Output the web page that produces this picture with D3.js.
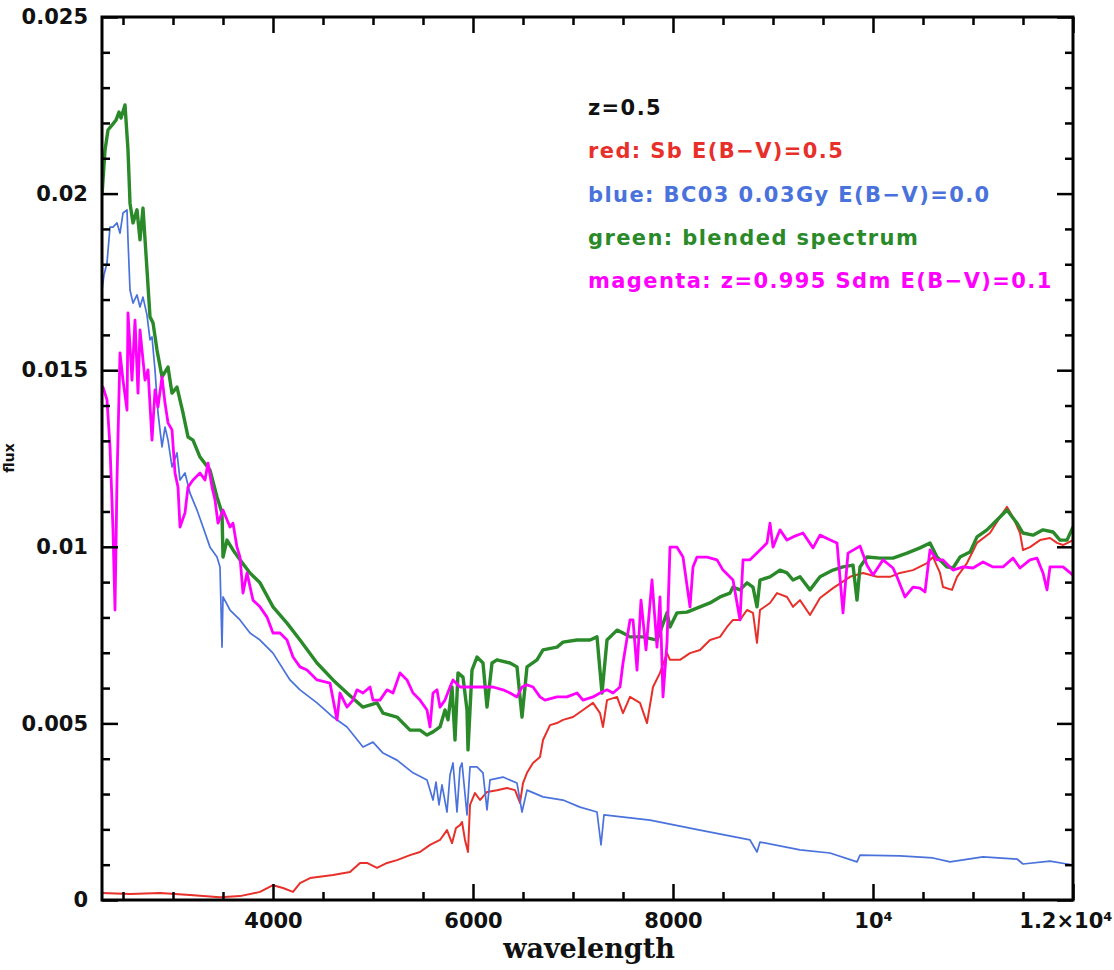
<!DOCTYPE html>
<html><head><meta charset="utf-8">
<script src="https://cdn.jsdelivr.net/npm/d3@7"></script>
<style>body{margin:0;background:#fff;overflow:hidden}</style></head>
<body><svg id="c" width="1114" height="970"></svg>
<script>
// [wavelength (Angstrom), flux]
const redSpectrum = [[2290,.0002],[2570,.00017],[2870,.0002],[3170,.00014],[3470,.00008],[3670,.00011],[3870,.00023],[4000,.00042],[4100,.00034],[4200,.00023],[4270,.00048],[4370,.00062],[4600,.00071],[4770,.00079],[4870,.00105],[4940,.00105],[5040,.00091],[5140,.00105],[5240,.00113],[5370,.00127],[5470,.00136],[5570,.00156],[5670,.0017],[5740,.00198],[5790,.00161],[5830,.00204],[5870,.00212],[5890,.00221],[5920,.0017],[5950,.00136],[5970,.00269],[6020,.00303],[6070,.00283],[6140,.00306],[6240,.00311],[6340,.00317],[6420,.00311],[6470,.00275],[6500,.00331],[6540,.0036],[6600,.00388],[6670,.00405],[6700,.00453],[6770,.00495],[6840,.00501],[6900,.0051],[7000,.00518],[7100,.00538],[7200,.00558],[7270,.00529],[7300,.0049],[7340,.00566],[7440,.00575],[7500,.00529],[7570,.00575],[7670,.00558],[7740,.00501],[7800,.00603],[7870,.00643],[7940,.00699],[7970,.0068],[8070,.0068],[8170,.00699],[8270,.00708],[8370,.00736],[8470,.00745],[8540,.00773],[8600,.00793],[8670,.00793],[8740,.00821],[8800,.00813],[8840,.00728],[8870,.00821],[8970,.00841],[9040,.00869],[9140,.00858],[9200,.0083],[9270,.00849],[9370,.00807],[9470,.00855],[9600,.00883],[9770,.00915],[9900,.00926],[10040,.00915],[10170,.00915],[10270,.00926],[10400,.00934],[10540,.00954],[10600,.00971],[10670,.00926],[10700,.00886],[10790,.00878],[10840,.00915],[10940,.00954],[11040,.01011],[11170,.01039],[11270,.01084],[11340,.01113],[11400,.01084],[11470,.01039],[11500,.00991],[11570,.00999],[11670,.01019],[11770,.01025],[11840,.01011],[11900,.01005],[12000,.01019]];

const blueSpectrum = [[2290,.01727],[2310,.0177],[2340,.01804],[2370,.01905],[2400,.01905],[2440,.01917],[2470,.01888],[2500,.01945],[2540,.01954],[2550,.01869],[2570,.01727],[2600,.0169],[2640,.01713],[2670,.01679],[2700,.01707],[2740,.01656],[2770,.01586],[2790,.01594],[2820,.01501],[2850,.01379],[2890,.01283],[2920,.01339],[2950,.01302],[2990,.01226],[3040,.01266],[3070,.01189],[3120,.01209],[3170,.01152],[3240,.01104],[3300,.01056],[3370,.00999],[3440,.00971],[3470,.00943],[3490,.00716],[3500,.00858],[3570,.00821],[3670,.00793],[3770,.00756],[3870,.00736],[4000,.00699],[4170,.00623],[4270,.00595],[4440,.00558],[4600,.00518],[4740,.0049],[4900,.00433],[5000,.00447],[5100,.00416],[5240,.00396],[5400,.0036],[5540,.0034],[5600,.00283],[5630,.00334],[5660,.00269],[5690,.00326],[5740,.00249],[5770,.00354],[5800,.00388],[5840,.00249],[5870,.00374],[5890,.00388],[5940,.00241],[5970,.00377],[6040,.00377],[6100,.0036],[6140,.00255],[6170,.0034],[6300,.00348],[6440,.00331],[6490,.00249],[6540,.00311],[6700,.00292],[6900,.00283],[7070,.00263],[7240,.00249],[7280,.00156],[7310,.00241],[7770,.00226],[8270,.00198],[8770,.0017],[8840,.00136],[8870,.00164],[9270,.00142],[9570,.00133],[9840,.00108],[9870,.00127],[10270,.00125],[10600,.00119],[10770,.00108],[11100,.00122],[11440,.00116],[11500,.00102],[11770,.0011],[12000,.00099]];

const greenSpectrum = [[2290,.01996],[2320,.02123],[2350,.0218],[2390,.02194],[2430,.02208],[2460,.02231],[2480,.02214],[2520,.02251],[2550,.02123],[2570,.01973],[2600,.01917],[2640,.01954],[2670,.01869],[2700,.01959],[2740,.01784],[2770,.01651],[2800,.01634],[2840,.01557],[2890,.01481],[2950,.01509],[2990,.01435],[3040,.01452],[3100,.01379],[3150,.01311],[3200,.01302],[3270,.01254],[3370,.01217],[3440,.01141],[3490,.01096],[3500,.00971],[3540,.01019],[3600,.00991],[3670,.00963],[3770,.00926],[3870,.00898],[4000,.0083],[4140,.00784],[4270,.00736],[4440,.00671],[4600,.00623],[4740,.00586],[4900,.00546],[5040,.00558],[5100,.00529],[5240,.00518],[5370,.00481],[5470,.00481],[5540,.00467],[5600,.00476],[5670,.0049],[5720,.00538],[5750,.0051],[5790,.00603],[5820,.00453],[5850,.00643],[5900,.00631],[5940,.00538],[5950,.00425],[5990,.00651],[6040,.00688],[6100,.00671],[6140,.00546],[6190,.00671],[6240,.0068],[6370,.00671],[6440,.0066],[6490,.00518],[6540,.0066],[6640,.0068],[6700,.00708],[6840,.00716],[6900,.0073],[7040,.00736],[7170,.00736],[7240,.00745],[7290,.00586],[7340,.00736],[7440,.00764],[7500,.00756],[7570,.00745],[7700,.00745],[7840,.00736],[7940,.00813],[7970,.00773],[8040,.00813],[8140,.00815],[8270,.0083],[8370,.00841],[8470,.00858],[8570,.00869],[8600,.00886],[8670,.00878],[8740,.00898],[8800,.00886],[8840,.0083],[8870,.00906],[8970,.00915],[9070,.00934],[9140,.00926],[9200,.00906],[9270,.00915],[9370,.00878],[9470,.00915],[9600,.00934],[9700,.00943],[9800,.00948],[9840,.00849],[9870,.00943],[9940,.00971],[10070,.00968],[10200,.00968],[10340,.00982],[10470,.00997],[10570,.01011],[10640,.00971],[10740,.00943],[10800,.0094],[10870,.00971],[10970,.00985],[11040,.01028],[11140,.01048],[11240,.01076],[11340,.01104],[11440,.01067],[11500,.01039],[11600,.01033],[11700,.01048],[11800,.01042],[11870,.01019],[11940,.01019],[12000,.01056]];

const magentaSpectrum = [[2290,.01444],[2300,.01452],[2340,.01416],[2370,.01283],[2400,.01048],[2420,.00821],[2440,.01189],[2470,.01549],[2500,.01472],[2540,.01387],[2550,.01662],[2590,.01472],[2620,.01642],[2650,.01435],[2670,.01614],[2720,.01472],[2750,.01501],[2790,.01302],[2820,.01444],[2850,.01396],[2890,.01481],[2920,.01407],[2950,.01351],[2990,.01331],[3020,.01209],[3050,.01169],[3070,.01056],[3120,.01096],[3150,.01169],[3200,.01189],[3270,.01209],[3320,.01189],[3350,.01237],[3390,.01169],[3420,.01133],[3450,.01067],[3500,.01104],[3570,.01056],[3600,.01067],[3640,.00999],[3670,.00971],[3700,.00869],[3740,.00926],[3800,.00849],[3870,.0083],[3940,.00801],[4000,.00756],[4070,.00756],[4140,.00736],[4200,.00688],[4270,.0066],[4340,.00651],[4440,.00623],[4570,.00614],[4640,.0051],[4670,.00586],[4740,.00546],[4800,.00566],[4840,.00595],[4900,.00586],[4970,.00603],[5000,.00566],[5070,.00566],[5140,.00595],[5200,.00586],[5270,.00643],[5340,.00623],[5400,.00586],[5470,.00566],[5540,.00538],[5570,.0049],[5600,.00586],[5640,.00595],[5670,.00546],[5720,.00566],[5770,.00603],[5800,.00623],[5870,.00603],[5970,.00603],[6100,.00603],[6200,.00603],[6300,.00595],[6370,.00586],[6440,.00575],[6490,.00603],[6540,.00609],[6600,.00603],[6670,.00575],[6720,.00566],[6840,.00575],[6940,.00575],[7040,.00586],[7100,.00566],[7200,.00575],[7270,.00586],[7340,.00595],[7400,.00586],[7470,.00603],[7500,.00671],[7570,.00793],[7600,.00793],[7640,.00651],[7680,.00849],[7730,.00708],[7790,.00906],[7840,.00716],[7870,.00858],[7900,.00575],[7940,.00728],[7970,.00999],[8040,.00999],[8100,.00971],[8170,.0083],[8200,.00943],[8240,.00971],[8340,.00971],[8440,.00963],[8500,.00934],[8600,.00906],[8640,.00841],[8670,.00793],[8700,.00963],[8770,.00963],[8870,.00991],[8940,.01011],[8970,.01067],[9000,.00999],[9070,.01048],[9140,.01019],[9200,.01028],[9300,.01039],[9400,.00997],[9470,.01033],[9600,.01016],[9640,.01011],[9700,.00813],[9750,.00982],[9870,.01002],[9940,.00948],[10000,.0092],[10100,.00963],[10200,.0094],[10240,.00915],[10320,.00858],[10400,.00886],[10470,.00883],[10520,.00872],[10570,.00991],[10640,.00963],[10700,.00963],[10800,.00934],[10900,.00943],[11000,.0094],[11100,.00957],[11200,.00943],[11300,.00943],[11400,.00968],[11470,.0094],[11570,.00963],[11640,.00968],[11700,.00926],[11740,.00878],[11770,.00943],[11900,.00943],[12000,.0092]];

const xMajorTicks = [4000, 6000, 8000, 10000, 12000];
const xTickLabels = ["4000", "6000", "8000", "10\u2074", "1.2\u00d710\u2074"];
const yMajorTicks = [0, 0.005, 0.01, 0.015, 0.02, 0.025];
const yTickLabels = ["0", "0.005", "0.01", "0.015", "0.02", "0.025"];
const legendLabels = ["z=0.5", "red: Sb E(B\u2212V)=0.5", "blue: BC03 0.03Gy E(B\u2212V)=0.0", "green: blended spectrum", "magenta: z=0.995 Sdm E(B\u2212V)=0.1"];
const legendColors = ["#111111", "#e8302a", "#4a72dc", "#2a8a2a", "#ff00ff"];

const svg = d3.select("#c");
const W = 1114;
const L = 102, R = 1073, T = 17, B = 900;
const x = d3.scaleLinear().domain([2290, 12000]).range([L, R]);
const y = d3.scaleLinear().domain([0, 0.025]).range([B, T]);

const xMinor = d3.range(2500, 12001, 500).filter(v => !xMajorTicks.includes(v));
const yMinor = d3.range(0, 0.02501, 0.001).filter(v => !yMajorTicks.some(m => Math.abs(m - v) < 1e-9));

svg.append("defs").append("clipPath").attr("id", "clip")
  .append("rect").attr("x", L).attr("y", T).attr("width", R - L).attr("height", B - T);

const series = [
  {d: redSpectrum, c: "#e8302a", w: 2},
  {d: blueSpectrum, c: "#4a72dc", w: 1.7},
  {d: greenSpectrum, c: "#2a8a2a", w: 3.4},
  {d: magentaSpectrum, c: "#ff00ff", w: 2.8}
];
const line = d3.line().x(d => x(d[0])).y(d => y(d[1]));
const gl = svg.append("g").attr("clip-path", "url(#clip)");
series.forEach(s => {
  gl.append("path").datum(s.d).attr("d", line)
    .attr("fill", "none").attr("stroke", s.c).attr("stroke-width", s.w)
    .attr("stroke-linejoin", "round");
});

function styleAxis(g) {
  g.select(".domain").remove();
  g.selectAll(".tick line").attr("stroke", "#000").attr("stroke-width", 2.5);
  g.selectAll("text").attr("font-family", "DejaVu Sans").attr("font-weight", "bold")
    .attr("font-size", 21).attr("fill", "#111");
}

svg.append("g").attr("transform", `translate(0,${B})`)
  .call(d3.axisBottom(x).tickValues(xMajorTicks).tickSize(-16).tickPadding(13)
    .tickFormat((d, i) => xTickLabels[i])).call(styleAxis)
  .call(g => g.selectAll(".tick text").filter(d => d === 12000)
    .attr("text-anchor", "end").attr("x", W - 2 - x(12000)));
svg.append("g").attr("transform", `translate(0,${B})`)
  .call(d3.axisBottom(x).tickValues(xMinor).tickSize(-8).tickFormat("")).call(styleAxis);
svg.append("g").attr("transform", `translate(0,${T})`)
  .call(d3.axisTop(x).tickValues(xMajorTicks).tickSize(-16).tickFormat("")).call(styleAxis);
svg.append("g").attr("transform", `translate(0,${T})`)
  .call(d3.axisTop(x).tickValues(xMinor).tickSize(-8).tickFormat("")).call(styleAxis);

svg.append("g").attr("transform", `translate(${L},0)`)
  .call(d3.axisLeft(y).tickValues(yMajorTicks).tickSize(-16).tickPadding(14)
    .tickFormat((d, i) => yTickLabels[i])).call(styleAxis);
svg.append("g").attr("transform", `translate(${L},0)`)
  .call(d3.axisLeft(y).tickValues(yMinor).tickSize(-8).tickFormat("")).call(styleAxis);
svg.append("g").attr("transform", `translate(${R},0)`)
  .call(d3.axisRight(y).tickValues(yMajorTicks).tickSize(-16).tickFormat("")).call(styleAxis);
svg.append("g").attr("transform", `translate(${R},0)`)
  .call(d3.axisRight(y).tickValues(yMinor).tickSize(-8).tickFormat("")).call(styleAxis);

svg.append("rect").attr("x", L).attr("y", T).attr("width", R - L).attr("height", B - T)
  .attr("fill", "none").attr("stroke", "#000").attr("stroke-width", 3);

svg.append("text").attr("x", 589).attr("y", 958).attr("text-anchor", "middle")
  .attr("font-family", "DejaVu Serif").attr("font-weight", "bold").attr("font-size", 27)
  .attr("fill", "#111").text("wavelength");
svg.append("text").attr("transform", "translate(14,458) rotate(-90)").attr("text-anchor", "middle")
  .attr("font-family", "DejaVu Sans").attr("font-weight", "bold").attr("font-size", 14)
  .attr("fill", "#111").text("flux");

const lg = svg.append("g");
legendLabels.forEach((t, i) => {
  lg.append("text").attr("x", 588).attr("y", 115 + i * 43.3)
    .attr("font-family", "DejaVu Sans").attr("font-weight", "bold").attr("font-size", 21)
    .attr("letter-spacing", 1.4).attr("fill", legendColors[i]).text(t);
});
</script></body></html>
